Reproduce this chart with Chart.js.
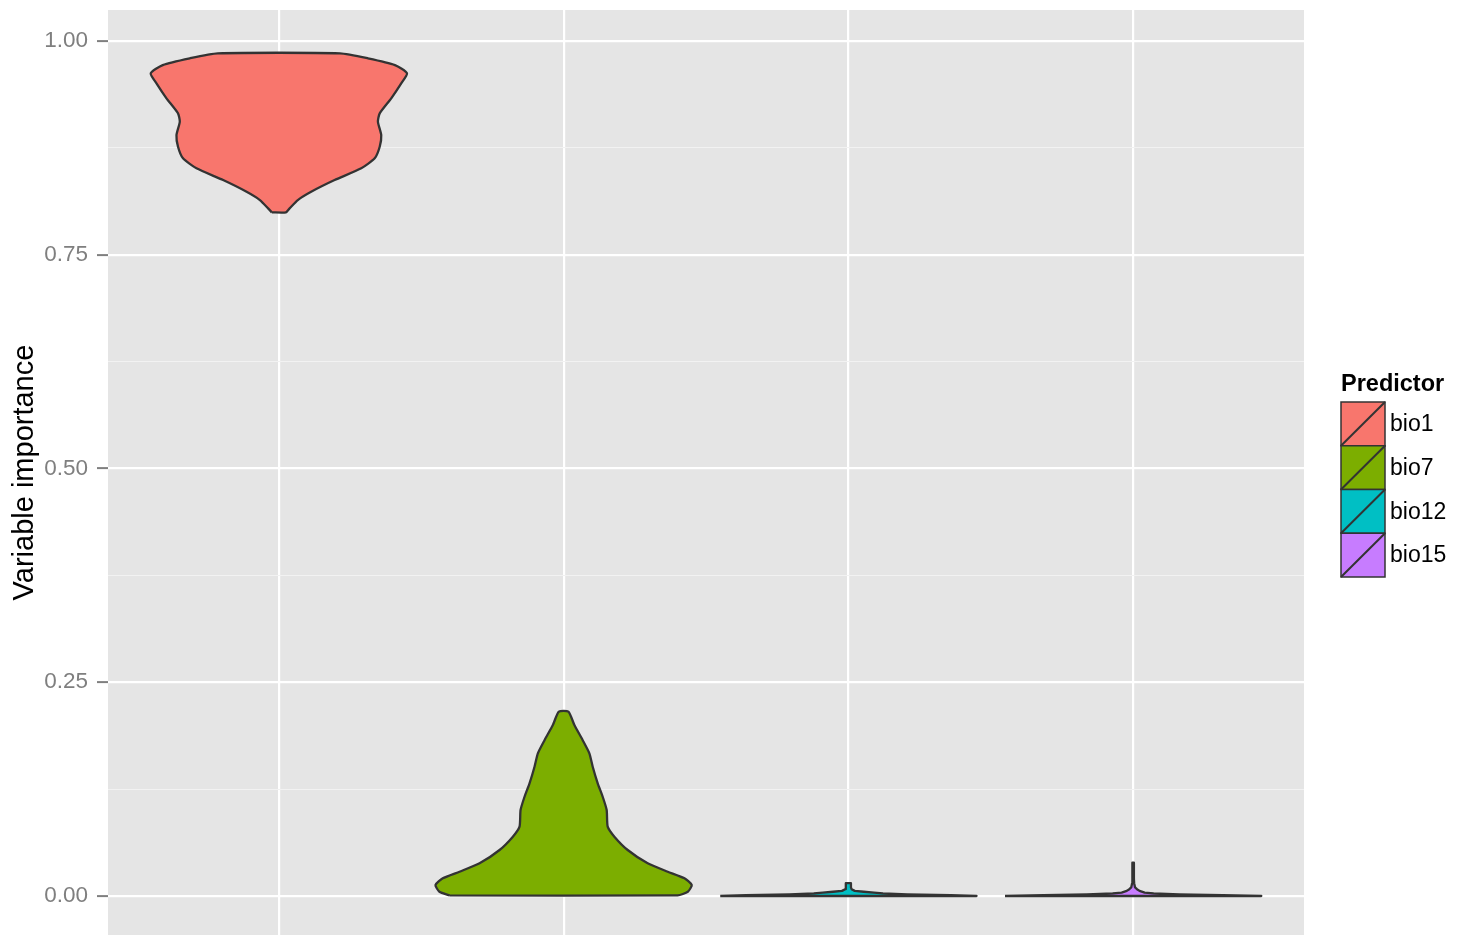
<!DOCTYPE html>
<html><head><meta charset="utf-8">
<script src="https://cdn.jsdelivr.net/npm/chart.js@4.4.1/dist/chart.umd.min.js"></script>
<style>html,body{margin:0;padding:0;background:#ffffff;}#wrap{width:1471px;height:935px;position:relative;}canvas{display:block;}</style>
</head><body><div id="wrap"><canvas id="c" width="1471" height="935"></canvas></div>
<script>
// ---- data ----
const categories = ['bio1', 'bio7', 'bio12', 'bio15'];
const fillColors = ['#F8766D', '#7CAE00', '#00BFC4', '#C77CFF'];
const yMajorTicks = [0, 0.25, 0.5, 0.75, 1.0];
const yMinorTicks = [0.125, 0.375, 0.625, 0.875];
const xTicks = [1, 2, 3, 4];
const yAxisTitle = 'Variable importance';
const legendTitle = 'Predictor';

// violin outlines: importance values (ascending) and relative half-widths (density, max = 1)
const bio1Values = [0.7996, 0.8043, 0.8140, 0.8237, 0.8374, 0.8511, 0.8628, 0.8764, 0.8900, 0.9056, 0.9154, 0.9330, 0.9505, 0.9622, 0.9719, 0.9798, 0.9856];
const bio1Widths = [0.055, 0.084, 0.148, 0.252, 0.435, 0.643, 0.748, 0.787, 0.799, 0.773, 0.787, 0.877, 0.955, 1.000, 0.906, 0.695, 0.477];
const bio7Values = [0.0008, 0.0050, 0.0129, 0.0207, 0.0284, 0.0382, 0.0538, 0.0694, 0.0811, 0.1006, 0.1161, 0.1318, 0.1512, 0.1669, 0.1825, 0.2000, 0.2156];
const bio7Widths = [0.89, 0.969, 1.0, 0.943, 0.8125, 0.656, 0.5, 0.396, 0.344, 0.336, 0.305, 0.266, 0.227, 0.201, 0.148, 0.084, 0.037];
const bio12Values = [0, 0.001, 0.002, 0.003, 0.004, 0.005, 0.006, 0.008, 0.010, 0.012, 0.014, 0.015];
const bio12Widths = [1.0, 0.8, 0.46, 0.27, 0.2, 0.12, 0.05, 0.025, 0.02, 0.02, 0.02, 0.02];
const bio15Values = [0, 0.001, 0.002, 0.003, 0.004, 0.006, 0.008, 0.010, 0.015, 0.020, 0.025, 0.030, 0.035, 0.039];
const bio15Widths = [1.0, 0.7, 0.36, 0.16, 0.09, 0.05, 0.03, 0.015, 0.008, 0.006, 0.006, 0.006, 0.006, 0.006];

const violinValues = [bio1Values, bio7Values, bio12Values, bio15Values];
const violinWidths = [bio1Widths, bio7Widths, bio12Widths, bio15Widths];

// ---- build ----
const HALF = 0.45;
function violinPolygon(center, values, widths) {
  const pts = [];
  for (let i = 0; i < values.length; i++) pts.push({x: center - HALF * widths[i], y: values[i]});
  for (let i = values.length - 1; i >= 0; i--) pts.push({x: center + HALF * widths[i], y: values[i]});
  pts.push({x: pts[0].x, y: pts[0].y});
  return pts;
}
const isMajor = v => yMajorTicks.some(t => Math.abs(t - v) < 1e-9);
const FONT = '"Liberation Sans", Arial, Helvetica, sans-serif';
Chart.defaults.font.family = FONT;

const datasets = categories.map((name, i) => ({
  label: name,
  data: violinPolygon(i + 1, violinValues[i], violinWidths[i]),
  showLine: true,
  fill: 'shape',
  backgroundColor: fillColors[i],
  borderColor: '#333333',
  borderWidth: 2.3,
  borderJoinStyle: 'round',
  pointRadius: 0,
  pointHoverRadius: 0,
  tension: i < 2 ? 0.2 : 0
}));

const bgPlugin = {
  id: 'panelBg',
  beforeDraw(chart) {
    const {ctx, chartArea: a} = chart;
    ctx.save();
    ctx.fillStyle = '#E5E5E5';
    ctx.fillRect(a.left, a.top, a.right - a.left, a.bottom - a.top);
    ctx.restore();
  }
};

const legendPlugin = {
  id: 'ggLegend',
  afterDraw(chart) {
    const ctx = chart.ctx;
    const x0 = chart.chartArea.right + 37, y0 = 402, w = 44, h = 43.75;
    ctx.save();
    ctx.fillStyle = '#000000';
    ctx.font = 'bold 23.5px ' + FONT;
    ctx.textBaseline = 'alphabetic';
    ctx.textAlign = 'left';
    ctx.fillText(legendTitle, x0, 391);
    categories.forEach((name, i) => {
      const y = y0 + i * h;
      ctx.fillStyle = fillColors[i];
      ctx.fillRect(x0, y, w, h);
      ctx.strokeStyle = '#333333';
      ctx.lineWidth = 1.5;
      ctx.strokeRect(x0, y, w, h);
      ctx.lineWidth = 2;
      ctx.beginPath();
      ctx.moveTo(x0, y + h);
      ctx.lineTo(x0 + w, y);
      ctx.stroke();
      ctx.fillStyle = '#000000';
      ctx.font = '23px ' + FONT;
      ctx.textBaseline = 'middle';
      ctx.fillText(name, x0 + w + 5, y + h / 2 + 1);
    });
    ctx.restore();
  }
};

new Chart(document.getElementById('c'), {
  type: 'scatter',
  data: {datasets},
  plugins: [bgPlugin, legendPlugin],
  options: {
    responsive: false,
    animation: false,
    events: [],
    layout: {padding: {left: 0, top: 10, right: 167, bottom: 0}},
    plugins: {legend: {display: false}, tooltip: {enabled: false}},
    scales: {
      x: {
        type: 'linear',
        min: 0.4, max: 4.6,
        afterBuildTicks: s => { s.ticks = xTicks.map(v => ({value: v})); },
        afterFit: s => { s.height = 0; s.paddingLeft = 0; s.paddingRight = 0; s.paddingTop = 0; s.paddingBottom = 0; },
        ticks: {display: false},
        border: {display: false},
        grid: {color: '#FFFFFF', lineWidth: 2.2, drawTicks: false}
      },
      y: {
        type: 'linear',
        min: -0.0456, max: 1.0363,
        afterBuildTicks: s => {
          s.ticks = yMajorTicks.concat(yMinorTicks).sort((a, b) => a - b).map(v => ({value: v}));
        },
        afterFit: s => { s.width = 108; s.paddingTop = 0; s.paddingBottom = 0; s.paddingLeft = 0; s.paddingRight = 0; },
        border: {display: false},
        grid: {
          color: c => isMajor(c.tick.value) ? '#FFFFFF' : '#F2F2F2',
          lineWidth: c => isMajor(c.tick.value) ? 2.2 : 1.1,
          drawTicks: true,
          tickLength: 11,
          tickColor: c => isMajor(c.tick.value) ? '#7F7F7F' : 'rgba(0,0,0,0)',
          tickWidth: 2
        },
        ticks: {
          color: '#7F7F7F',
          font: {size: 22.5},
          padding: 9,
          autoSkip: false,
          callback: v => isMajor(v) ? v.toFixed(2) : ''
        },
        title: {
          display: true,
          text: yAxisTitle,
          color: '#000000',
          font: {size: 29},
          padding: {top: 8, bottom: 0}
        }
      }
    }
  }
});
</script>
</body></html>
